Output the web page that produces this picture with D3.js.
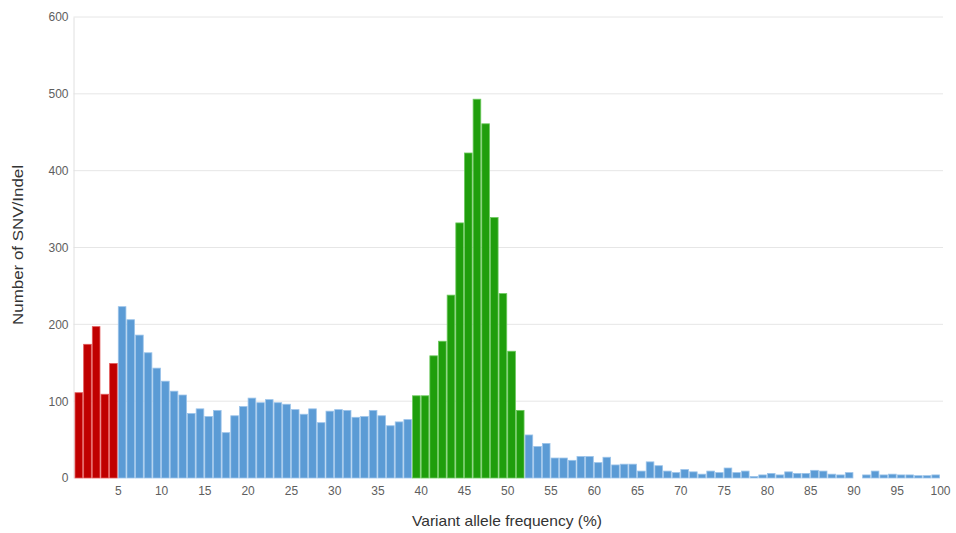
<html><head>
<title>Variant allele frequency histogram</title>
<style>
body {
  margin: 0;
  background: #fff;
  font-family: "Liberation Sans", Arial, sans-serif;
}
.tick text { fill: #5e5e5e; font-size: 12px; }
.axis-title { fill: #333; font-size: 14.5px; }
</style>
<script src="https://cdnjs.cloudflare.com/ajax/libs/d3/7.8.5/d3.min.js"></script>
</head>
<body>
<svg id="chart" width="956" height="533"></svg>
<script>
// bins of 1% VAF, bin k covers (k-1, k]
const lowVaf = [111, 174, 197, 109, 149];                          // 1-5 (red)
const subclonal = [223, 206, 186, 163, 143, 126, 113, 108, 84, 90,
  80, 88, 59, 81, 93, 104, 98, 102, 98, 96,
  89, 83, 90, 72, 87, 89, 88, 79, 80, 88,
  81, 68, 73, 76];                                                // 6-39 (blue)
const heterozygous = [107, 107, 159, 178, 238, 332, 423, 493, 461, 339,
  240, 165, 88];                                                  // 40-52 (green)
const highVaf = [56, 41, 45, 26, 26, 23, 28, 28, 20, 27,
  17, 18, 18, 9, 21, 16, 9, 7, 11, 8,
  5, 9, 7, 13, 7, 9, 2, 4, 6, 4,
  8, 6, 6, 10, 9, 5, 4, 7, 0, 4,
  9, 4, 5, 4, 4, 3, 3, 4];                                        // 53-100 (blue)

const xTicks = d3.range(5, 101, 5);
const yTicks = [0, 100, 200, 300, 400, 500, 600];

const groups = [
  {values: lowVaf, fill: "#c00000", edge: "#e35a5a"},
  {values: subclonal, fill: "#5b9bd5", edge: "#9cc4ea"},
  {values: heterozygous, fill: "#1f9e0c", edge: "#6cc95e"},
  {values: highVaf, fill: "#5b9bd5", edge: "#9cc4ea"}
];

let bins = [];
groups.forEach(g => g.values.forEach(v => {
  bins.push({bin: bins.length + 1, count: v, fill: g.fill, edge: g.edge});
}));

const svg = d3.select("#chart");
const plotLeft = 74.5, plotRight = 940, plotTop = 17, plotBottom = 478;

const x = d3.scaleLinear().domain([0, 100]).range([plotLeft, plotRight]);
const y = d3.scaleLinear().domain([0, 600]).range([plotBottom, plotTop]);

// gridlines
svg.append("g")
  .selectAll("line")
  .data(yTicks.filter(d => d > 0))
  .join("line")
  .attr("x1", plotLeft - 1)
  .attr("x2", plotRight + 3)
  .attr("y1", d => y(d))
  .attr("y2", d => y(d))
  .attr("stroke", "#e6e6e6");

// y axis
const yAxis = svg.append("g")
  .attr("transform", `translate(${plotLeft - 1},0)`)
  .call(d3.axisLeft(y).tickValues(yTicks).tickSize(0).tickPadding(5));
yAxis.select(".domain").attr("stroke", "#e0e0e0");

// bars
svg.append("g")
  .selectAll("rect")
  .data(bins)
  .join("rect")
  .attr("x", d => x(d.bin - 1) + 0.5)
  .attr("width", d => x(d.bin) - x(d.bin - 1) - 1)
  .attr("y", d => y(d.count))
  .attr("height", d => y(0) - y(d.count))
  .attr("fill", d => d.fill)
  .attr("stroke", d => d.edge)
  .attr("stroke-width", 0.8);

// x axis
const xAxis = svg.append("g")
  .attr("transform", `translate(0,${plotBottom})`)
  .call(d3.axisBottom(x).tickValues(xTicks).tickSize(0).tickPadding(8));
xAxis.select(".domain").remove();

svg.append("text")
  .attr("class", "axis-title")
  .attr("x", 507)
  .attr("y", 526)
  .attr("text-anchor", "middle")
  .attr("textLength", 190)
  .attr("lengthAdjust", "spacingAndGlyphs")
  .text("Variant allele frequency (%)");

svg.append("text")
  .attr("class", "axis-title")
  .attr("transform", "translate(23,245) rotate(-90)")
  .attr("text-anchor", "middle")
  .attr("textLength", 160)
  .attr("lengthAdjust", "spacingAndGlyphs")
  .text("Number of SNV/Indel");
</script>
</body>
</html>
